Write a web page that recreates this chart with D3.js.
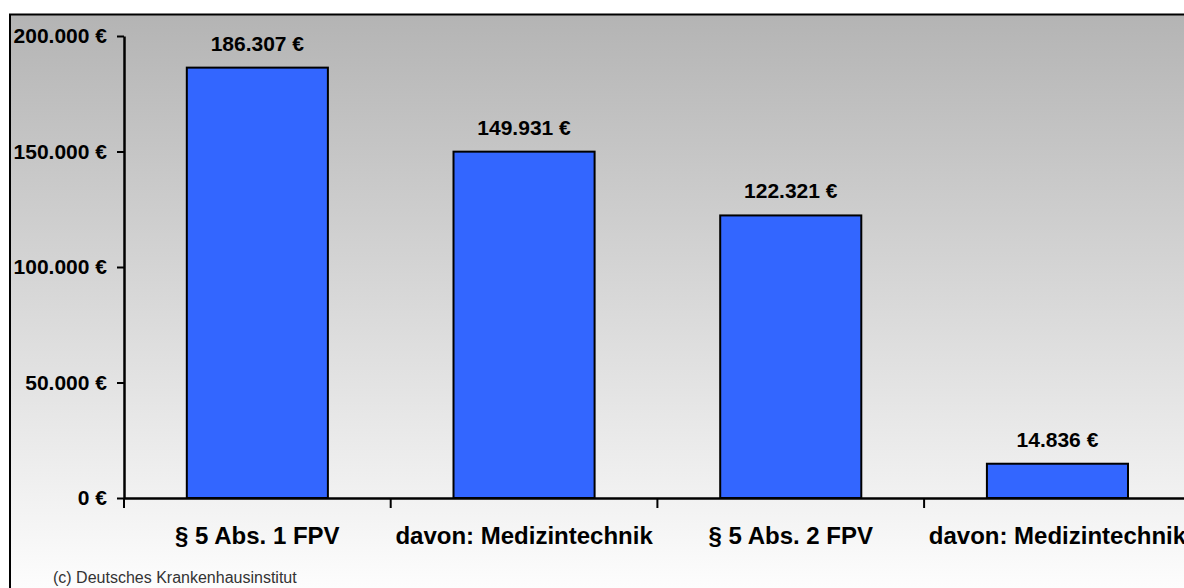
<!DOCTYPE html>
<html>
<head>
<meta charset="utf-8">
<script src="https://cdn.jsdelivr.net/npm/d3@7"></script>
<style>
  html, body { margin: 0; padding: 0; background: #fff; }
  svg { display: block; font-family: "Liberation Sans", Arial, sans-serif; }
</style>
</head>
<body>
<svg id="chart" width="1184" height="588"></svg>
<script>
// Förderbeträge je Krankenhaus
const categories = ["§ 5 Abs. 1 FPV", "davon: Medizintechnik", "§ 5 Abs. 2 FPV", "davon: Medizintechnik"];
const values = [186307, 149931, 122321, 14836];
const yTicks = [0, 50000, 100000, 150000, 200000];
const source = "(c) Deutsches Krankenhausinstitut";

const de = d3.formatLocale({ decimal: ",", thousands: ".", grouping: [3], currency: ["", " €"] });
const euro = de.format("$,.0f");

const svg = d3.select("#chart");
const W = 1184, H = 588;
const plot = { left: 124, right: 124 + 4 * 266.7, top: 36, bottom: 498 };

// background: grey-to-white vertical gradient inside a framed area
const defs = svg.append("defs");
const grad = defs.append("linearGradient")
  .attr("id", "bg").attr("x1", 0).attr("y1", 0).attr("x2", 0).attr("y2", 1);
grad.append("stop").attr("offset", "0%").attr("stop-color", "#b4b4b4");
grad.append("stop").attr("offset", "100%").attr("stop-color", "#ffffff");

svg.append("rect").attr("x", 0).attr("y", 0).attr("width", W).attr("height", H).attr("fill", "#fff");
svg.append("rect")
  .attr("x", 10).attr("y", 14.5).attr("width", 1220).attr("height", 590)
  .attr("fill", "url(#bg)").attr("stroke", "#000").attr("stroke-width", 2);

const x = d3.scaleBand()
  .domain(d3.range(categories.length))
  .range([plot.left, plot.right])
  .paddingInner(0.471).paddingOuter(0.2355);

const y = d3.scaleLinear().domain([0, 200000]).range([plot.bottom, plot.top]);

// y axis
const yAxis = svg.append("g")
  .attr("transform", `translate(${plot.left},0)`)
  .call(d3.axisLeft(y).tickValues(yTicks).tickFormat(euro).tickSize(7).tickPadding(10).tickSizeOuter(0));
yAxis.select(".domain").attr("stroke", "#000").attr("stroke-width", 2.5);
yAxis.selectAll(".tick line").attr("stroke", "#000").attr("stroke-width", 2);
yAxis.selectAll(".tick text")
  .attr("fill", "#000").attr("font-size", 21).attr("font-weight", "bold")
  .attr("font-family", "'Liberation Sans', Arial, sans-serif");

// bars
svg.append("g").selectAll("rect")
  .data(values)
  .join("rect")
  .attr("x", (d, i) => x(i))
  .attr("y", d => y(d))
  .attr("width", x.bandwidth())
  .attr("height", d => y(0) - y(d))
  .attr("fill", "#3366ff")
  .attr("stroke", "#000")
  .attr("stroke-width", 2);

// value labels
svg.append("g").selectAll("text")
  .data(values)
  .join("text")
  .attr("x", (d, i) => x(i) + x.bandwidth() / 2)
  .attr("y", d => y(d) - 17)
  .attr("text-anchor", "middle")
  .attr("font-size", 21).attr("font-weight", "bold").attr("fill", "#000")
  .text(d => euro(d));

// x axis: labels at band centres, tick marks at band boundaries
const xAxis = svg.append("g")
  .attr("transform", `translate(0,${plot.bottom})`)
  .call(d3.axisBottom(x).tickFormat(i => categories[i]).tickSize(0).tickPadding(29).tickSizeOuter(0));
xAxis.select(".domain").attr("stroke", "#000").attr("stroke-width", 2.5);
xAxis.selectAll(".tick text")
  .attr("fill", "#000").attr("font-size", 24).attr("font-weight", "bold")
  .attr("font-family", "'Liberation Sans', Arial, sans-serif");

const step = x.step();
svg.append("g").selectAll("line")
  .data(d3.range(categories.length + 1))
  .join("line")
  .attr("x1", i => plot.left + i * step).attr("x2", i => plot.left + i * step)
  .attr("y1", plot.bottom).attr("y2", plot.bottom + 10)
  .attr("stroke", "#000").attr("stroke-width", 2);

// source note
svg.append("text")
  .attr("x", 53).attr("y", 583)
  .attr("font-size", 16).attr("fill", "#333")
  .text(source);
</script>
</body>
</html>
